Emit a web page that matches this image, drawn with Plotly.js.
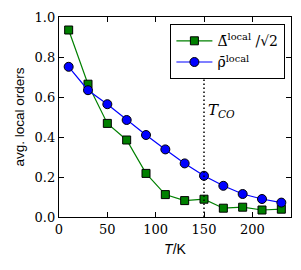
<!DOCTYPE html>
<html><head><meta charset="utf-8">
<script src="https://cdn.plot.ly/plotly-3.0.1.min.js"></script>
<style>html,body{margin:0;padding:0;background:#fff}#c{width:301px;height:270px}</style>
</head><body><div id="c"></div>
<script>
const temps = [10,30,50,70,90,110,130,150,170,190,210,230];
const deltaLocal = [0.935,0.664,0.468,0.385,0.218,0.112,0.082,0.089,0.044,0.049,0.035,0.039];
const rhoLocal = [0.751,0.634,0.564,0.485,0.41,0.338,0.268,0.206,0.156,0.115,0.09,0.072];
const tCO = 150;
const tCOLine = [0, 0.71];
const xTicks = [0,50,100,150,200];
const yTicks = [0,0.2,0.4,0.6,0.8,1.0];

const serif = 'DejaVu Serif';
const sans = 'Liberation Sans';
const data = [
  {x: temps, y: deltaLocal, mode:'lines+markers', name:'Δ̄<sup>local</sup> /√2',
   line:{color:'#008000', width:1.2}, marker:{symbol:'square', size:8, color:'#008000', line:{color:'#000', width:1}}},
  {x: temps, y: rhoLocal, mode:'lines+markers', name:'ρ̄<sup>local</sup>',
   line:{color:'#0000ff', width:1.2}, marker:{symbol:'circle', size:9, color:'#0000ff', line:{color:'#000', width:1}}},
  {x:[tCO,tCO], y:tCOLine, mode:'lines', showlegend:false, hoverinfo:'skip',
   line:{color:'#000', width:1.5, dash:'1.5px,2.5px'}}
];
const axBase = {showgrid:false, zeroline:false, showline:true, linecolor:'#000', linewidth:1.2,
  mirror:'ticks', ticks:'inside', ticklen:5, tickcolor:'#000', tickfont:{family:serif, size:13, color:'#000'}};
const layout = {
  width:301, height:270, margin:{l:59, r:10, t:17, b:53},
  paper_bgcolor:'#fff', plot_bgcolor:'#fff', showlegend:true,
  font:{family:serif},
  xaxis: Object.assign({}, axBase, {range:[0,240], tickvals:xTicks, ticktext:xTicks.map(String),
    title:{text:'<i>T</i>/K', font:{family:sans, size:14, color:'#000'}, standoff:8}}),
  yaxis: Object.assign({}, axBase, {range:[0,1], tickvals:yTicks, ticktext:yTicks.map(v=>v.toFixed(1)),
    title:{text:'avg. local orders', font:{family:sans, size:13.5, color:'#000'}, standoff:6}}),
  legend:{x:0.975, y:0.965, xanchor:'right', yanchor:'top', bordercolor:'#000', borderwidth:1.2, bgcolor:'#fff',
    font:{family:serif, size:14, color:'#000'}, tracegroupgap:0, itemwidth:36},
  annotations:[{x:152, y:0.535, xref:'x', yref:'y', text:'<i>T</i><sub><i>CO</i></sub>', showarrow:false,
    xanchor:'left', font:{family:serif, size:15, color:'#000'}}]
};
Plotly.newPlot('c', data, layout, {displayModeBar:false, staticPlot:true});
</script></body></html>
